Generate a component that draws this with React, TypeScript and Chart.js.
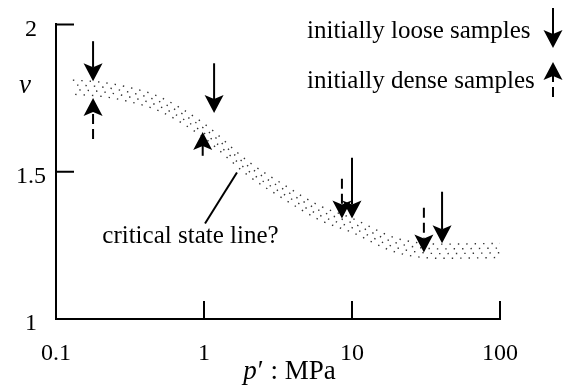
import { useEffect, useRef } from "react";
import { Chart, registerables } from "chart.js";

Chart.register(...registerables);

// ---- data ----
const xTickValues = [0.1, 1, 10, 100];
const yTickValues = [1, 1.5, 2];

// critical-state band (p' in MPa, specific volume v): four stipple rows
const bandP = [0.13, 0.2, 0.3, 0.5, 1, 2, 3.5, 6, 10, 20, 40, 105];
const bandRowA = [1.811, 1.804, 1.788, 1.754, 1.663, 1.534, 1.454, 1.385, 1.342, 1.274, 1.254, 1.257];
const bandRowB = [1.795, 1.788, 1.772, 1.738, 1.647, 1.518, 1.438, 1.369, 1.326, 1.258, 1.238, 1.241];
const bandRowC = [1.779, 1.772, 1.756, 1.722, 1.631, 1.502, 1.422, 1.353, 1.31, 1.242, 1.222, 1.225];
const bandRowD = [1.763, 1.756, 1.74, 1.706, 1.615, 1.486, 1.406, 1.337, 1.294, 1.226, 1.206, 1.209];

// initially loose samples (solid arrows)
const looseP = [0.178, 1.17, 10.0, 40.6];
const looseTail = [1.943, 1.868, 1.547, 1.432];
const looseTip = [1.807, 1.699, 1.341, 1.257];

// initially dense samples (dashed arrows)
const denseP = [0.178, 0.98, 8.55, 30.6];
const denseTail = [1.611, 1.554, 1.476, 1.378];
const denseTip = [1.75, 1.635, 1.341, 1.226];

const legendLabels = ["initially loose samples", "initially dense samples"];
const annotationText = "critical state line?";
const annotationP = 0.81;
const annotationV = 1.257;
const leaderP = [1.016, 1.67];
const leaderV = [1.324, 1.497];
const yAxisLabel = "v";
const xAxisLabelItalic = "p";
const xAxisLabelRest = "\u2032 : MPa";

const FONT = "'Liberation Serif', 'Times New Roman', serif";

function drawArrow(
  ctx: CanvasRenderingContext2D,
  x: number,
  yTail: number,
  yTip: number,
  dashed: boolean
) {
  const dir = yTip > yTail ? 1 : -1;
  const headLen = 18;
  const half = 9.5;
  const notch = 4;
  const baseY = yTip - dir * (headLen - notch);
  ctx.save();
  ctx.strokeStyle = "#000";
  ctx.fillStyle = "#000";
  ctx.lineWidth = 2;
  ctx.setLineDash(dashed ? [10, 5] : []);
  ctx.beginPath();
  ctx.moveTo(x, yTail);
  ctx.lineTo(x, baseY);
  ctx.stroke();
  ctx.setLineDash([]);
  ctx.beginPath();
  ctx.moveTo(x, yTip);
  ctx.lineTo(x - half, yTip - dir * headLen);
  ctx.lineTo(x, yTip - dir * (headLen - notch));
  ctx.lineTo(x + half, yTip - dir * headLen);
  ctx.closePath();
  ctx.fill();
  ctx.restore();
}

const decorPlugin = {
  id: "decor",
  afterDraw(chart: any) {
    const ctx: CanvasRenderingContext2D = chart.ctx;
    const xs = chart.scales.x;
    const ys = chart.scales.y;
    const area = chart.chartArea;
    ctx.save();
    // inward tick marks
    ctx.strokeStyle = "#000";
    ctx.lineWidth = 2;
    ctx.beginPath();
    xTickValues.forEach((v) => {
      const px = xs.getPixelForValue(v);
      ctx.moveTo(px, area.bottom);
      ctx.lineTo(px, area.bottom - 18);
    });
    yTickValues.forEach((v) => {
      const py = ys.getPixelForValue(v);
      ctx.moveTo(area.left, py);
      ctx.lineTo(area.left + 18, py);
    });
    ctx.stroke();

    // sample arrows
    looseP.forEach((p, i) => {
      drawArrow(ctx, xs.getPixelForValue(p), ys.getPixelForValue(looseTail[i]), ys.getPixelForValue(looseTip[i]), false);
    });
    denseP.forEach((p, i) => {
      drawArrow(ctx, xs.getPixelForValue(p), ys.getPixelForValue(denseTail[i]), ys.getPixelForValue(denseTip[i]), true);
    });

    // annotation
    ctx.beginPath();
    ctx.moveTo(xs.getPixelForValue(leaderP[0]), ys.getPixelForValue(leaderV[0]));
    ctx.lineTo(xs.getPixelForValue(leaderP[1]), ys.getPixelForValue(leaderV[1]));
    ctx.stroke();
    ctx.fillStyle = "#000";
    ctx.font = `25px ${FONT}`;
    ctx.textAlign = "center";
    ctx.textBaseline = "alphabetic";
    ctx.fillText(annotationText, xs.getPixelForValue(annotationP), ys.getPixelForValue(annotationV));

    // legend
    ctx.textAlign = "left";
    ctx.fillText(legendLabels[0], 307, 38);
    ctx.fillText(legendLabels[1], 307, 88);
    drawArrow(ctx, 553, 8, 48, false);
    drawArrow(ctx, 553, 97, 62, true);

    // y axis label
    ctx.font = `italic 27px ${FONT}`;
    ctx.textAlign = "center";
    ctx.fillText(yAxisLabel, 25, 93);

    // x axis title: italic p + rest
    ctx.textAlign = "left";
    ctx.font = `italic 27px ${FONT}`;
    const w1 = ctx.measureText(xAxisLabelItalic).width;
    ctx.font = `27px ${FONT}`;
    const w2 = ctx.measureText(xAxisLabelRest).width;
    const cx = (area.left + area.right) / 2 + 11;
    const start = cx - (w1 + w2) / 2;
    ctx.font = `italic 27px ${FONT}`;
    ctx.fillText(xAxisLabelItalic, start, 379);
    ctx.font = `27px ${FONT}`;
    ctx.fillText(xAxisLabelRest, start + w1 + 1, 379);
    ctx.restore();
  },
};

export default function App() {
  const ref = useRef<HTMLCanvasElement | null>(null);
  useEffect(() => {
    if (!ref.current) return;
    const bandStyle = (offset: number) => ({
      showLine: true,
      borderColor: "#333",
      borderWidth: 1.4,
      borderDash: [1.4, 7],
      borderDashOffset: offset,
      pointRadius: 0,
      cubicInterpolationMode: "monotone" as const,
      fill: false,
    });
    const rows = [bandRowA, bandRowB, bandRowC, bandRowD];
    const offsets = [0, 4.2, 2, 6.1];
    const chart = new Chart(ref.current, {
      type: "scatter",
      data: {
        datasets: rows.map((row, k) => ({
          label: `band${k}`,
          data: bandP.map((p, i) => ({ x: p, y: row[i] })),
          ...bandStyle(offsets[k]),
        })),
      },
      options: {
        responsive: false,
        animation: false,
        devicePixelRatio: 1,
        layout: { padding: { left: 0, top: 23, right: 65, bottom: 0 } },
        plugins: { legend: { display: false }, tooltip: { enabled: false } },
        scales: {
          x: {
            type: "logarithmic",
            min: 0.1,
            max: 100,
            afterBuildTicks: (axis: any) => {
              axis.ticks = xTickValues.map((v) => ({ value: v }));
            },
            afterFit: (s: any) => {
              s.height = 72;
            },
            grid: { display: false, drawTicks: false },
            border: { display: true, color: "#000", width: 2 },
            ticks: {
              autoSkip: false,
              maxRotation: 0,
              padding: 20,
              color: "#000",
              font: { family: FONT, size: 24 },
              callback: (v: any) => String(v),
            },
          },
          y: {
            type: "linear",
            min: 1,
            max: 2,
            afterBuildTicks: (axis: any) => {
              axis.ticks = yTickValues.map((v) => ({ value: v }));
            },
            afterFit: (s: any) => {
              s.width = 56;
            },
            grid: { display: false, drawTicks: false },
            border: { display: true, color: "#000", width: 2 },
            ticks: {
              crossAlign: "center",
              padding: 10,
              labelOffset: 5,
              color: "#000",
              font: { family: FONT, size: 24 },
              callback: (v: any) => String(v),
            },
          },
        },
      },
      plugins: [decorPlugin],
    });
    return () => chart.destroy();
  }, []);
  return (
    <div style={{ position: "absolute", left: 0, top: 0, width: 565, height: 391, background: "#fff" }}>
      <canvas ref={ref} width={565} height={391} style={{ width: 565, height: 391 }} />
    </div>
  );
}
